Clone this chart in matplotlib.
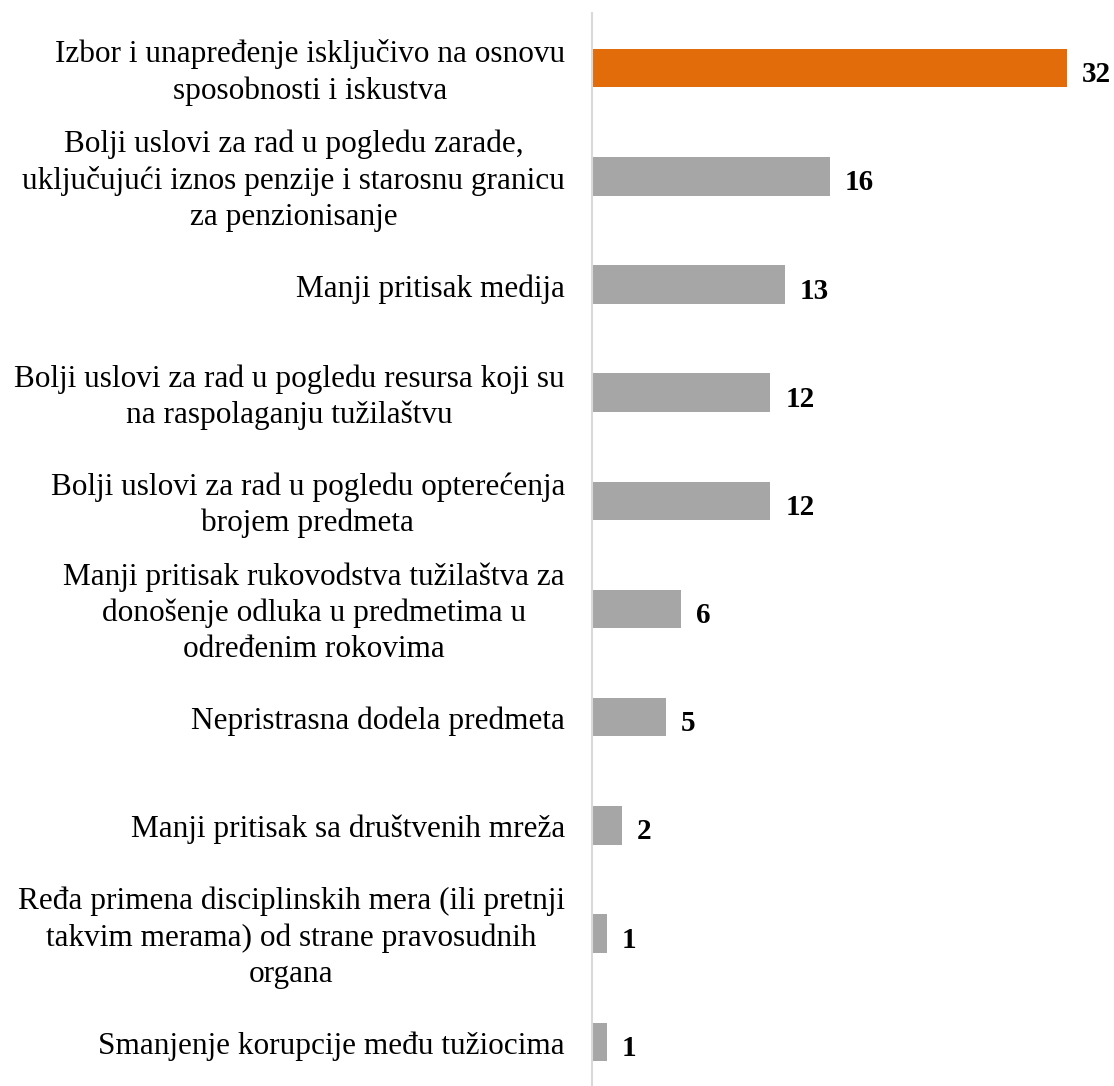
import matplotlib
matplotlib.use("Agg")
import matplotlib.pyplot as plt

# Categories (top to bottom) and values
labels = [
    "Izbor i unapređenje isključivo na osnovu\nsposobnosti i iskustva",
    "Bolji uslovi za rad u pogledu zarade,\nuključujući iznos penzije i starosnu granicu\nza penzionisanje",
    "Manji pritisak medija",
    "Bolji uslovi za rad u pogledu resursa koji su\nna raspolaganju tužilaštvu",
    "Bolji uslovi za rad u pogledu opterećenja\nbrojem predmeta",
    "Manji pritisak rukovodstva tužilaštva za\ndonošenje odluka u predmetima u\nodređenim rokovima",
    "Nepristrasna dodela predmeta",
    "Manji pritisak sa društvenih mreža",
    "Ređa primena disciplinskih mera (ili pretnji\ntakvim merama) od strane pravosudnih\norgana",
    "Smanjenje korupcije među tužiocima",
]
values = [32, 16, 13, 12, 12, 6, 5, 2, 1, 1]

orange = "#e36c0a"
gray = "#a6a6a6"
colors = [orange] + [gray] * (len(values) - 1)

fig = plt.figure(figsize=(11.14, 10.86), dpi=100)
ax = fig.add_axes([592 / 1114, 1 / 1086, 520 / 1114, 1072 / 1086])

ypos = list(range(len(values)))
ax.barh(ypos, values, height=0.355, color=colors)
ax.set_xlim(0, 35.0)
ax.set_ylim(9.4, -0.51)

for y, v, lab in zip(ypos, values, labels):
    ax.text(v + 1.0, y + 0.06, str(v), va="center", ha="left",
            fontsize=21, fontweight="bold", family="Liberation Serif",
            clip_on=False)
    ax.text(-1.82, y + 0.04, lab, va="center", ha="right", multialignment="center",
            fontsize=22.5, family="Liberation Serif", linespacing=1.31,
            clip_on=False)

for s in ["top", "right", "bottom"]:
    ax.spines[s].set_visible(False)
ax.spines["left"].set_color("#d9d9d9")
ax.spines["left"].set_linewidth(1.5)
ax.set_xticks([])
ax.set_yticks([])

fig.savefig("out.png", dpi=100)
